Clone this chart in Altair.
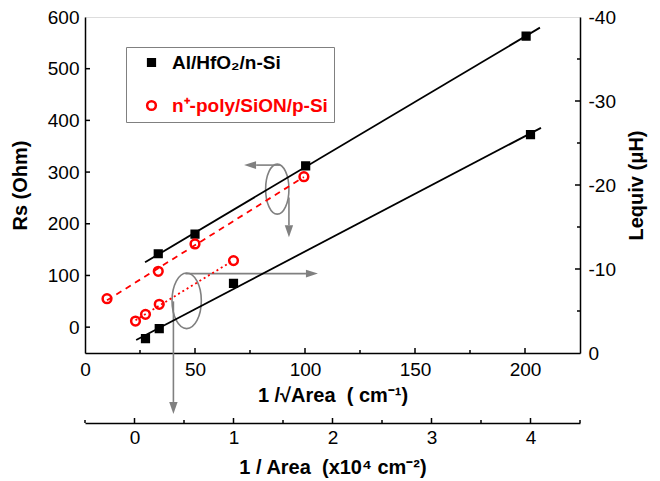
import altair as alt
import pandas as pd

FONT = "Liberation Sans"
GRAY = "#808080"
NB = "\u00a0"

# ---------------- data ----------------
series = ["Al/HfO₂/n-Si", "n⁺-poly/SiON/p-Si"]

# Rs vs 1/sqrt(Area)  (cm^-1)
al_inv_sqrt_area = [33.3, 50, 100.3, 200.5]
al_rs = [142, 180, 312, 563]
poly_inv_sqrt_area = [10, 33.3, 50, 99.5]
poly_rs = [55, 108, 161, 291]

# Lequiv vs 1/Area  (x10^4 cm^-2)
al_inv_area = [0.111, 0.25, 1.0, 4.0]
al_leq = [-1.7, -2.9, -8.3, -26.0]
poly_inv_area = [0.01, 0.111, 0.25, 1.0]
poly_leq = [-3.8, -4.6, -5.8, -11.0]

# extents of the fitted lines
al_rs_fit_extent = [27.3, 206.8]
poly_rs_fit_extent = [10, 99.5]
al_leq_fit_extent = [0.017, 4.106]
poly_leq_fit_extent = [0.01, 1.0]

# axis ticks
xA_labels = [0, 50, 100, 150, 200]
xA_major = [50, 100, 150, 200]
xA_minor = [25, 75, 125, 175]
yA_labels = [0, 100, 200, 300, 400, 500, 600]
yA_major = [0, 100, 200, 300, 400, 500]
xB_labels = [0, 1, 2, 3, 4]
xB_minor = [-0.5, 0.5, 1.5, 2.5, 3.5, 4.5]
yB_labels = [0, -10, -20, -30, -40]
yB_major = [-10, -20, -30]
yB_minor = [-5, -15, -25, -35]

# annotations (ellipse centres and arrows, in data units)
ellA = {"X": [87.4], "Rs": [267]}
arrA_left = {"X": [88.6], "X2": [77.8], "Rs": [313.5], "tipX": [72.3]}
arrA_down = {"X": [92.7], "Rs": [251], "Rs2": [197], "tipRs": [173.7]}
ellB = {"A": [0.527], "L": [-6.21]}
arrB_right = {"A": [0.514], "A2": [1.732], "L": [-9.45], "tipA": [1.853]}
arrB_down = {"A": [0.393], "L": [-6.15], "L2": [5.83], "tipL": [7.26]}

# ---------------- helpers ----------------
W, H = 495, 336

def ellipse_path(rx):
    k = 0.5523
    return (f"M0,-1 C{k*rx:.4f},-1 {rx:.4f},{-k:.4f} {rx:.4f},0 "
            f"C{rx:.4f},{k:.4f} {k*rx:.4f},1 0,1 "
            f"C{-k*rx:.4f},1 {-rx:.4f},{k:.4f} {-rx:.4f},0 "
            f"C{-rx:.4f},{-k:.4f} {-k*rx:.4f},-1 0,-1 Z")

HEAD_LEFT = "M0,0 L2,-0.65 L2,0.65 Z"
HEAD_RIGHT = "M0,0 L-2,-0.65 L-2,0.65 Z"
HEAD_DOWN = "M0,0 L-0.7,-2 L0.7,-2 Z"

common = dict(labelFont=FONT, labelFontSize=19, labelColor="black",
              titleFont=FONT, titleFontSize=20, titleFontWeight="bold",
              titleColor="black", domainColor="black", domainWidth=1.5,
              ticks=False, grid=False, labelFlush=False, labelOverlap=False,
              labelExpr="'' + datum.value")

axXA = alt.Axis(orient="bottom", values=xA_labels,
                title=f"1 /√Area{NB}{NB}({NB}cm⁻¹)",
                labelPadding=7, titlePadding=6, **common)
axYA = alt.Axis(orient="left", values=yA_labels, title="Rs (Ohm)",
                labelPadding=6, titlePadding=17, **common)
axXB = alt.Axis(orient="bottom", offset=70, values=xB_labels,
                title=f"1 / Area{NB}{NB}(x10⁴ cm⁻²)", labelPadding=5, titlePadding=10, **common)
axYB = alt.Axis(orient="right", values=yB_labels, title="Lequiv (μH)",
                titleAngle=270, titleBaseline="top", labelPadding=8, titlePadding=11, **common)

xsA = alt.Scale(domain=[0, 225], nice=False, zero=False)
ysA = alt.Scale(domain=[-50, 600], nice=False, zero=False)
xsB = alt.Scale(domain=[-0.5, 4.5], nice=False, zero=False)
ysB = alt.Scale(domain=[-40, 0], reverse=True, nice=False, zero=False)

def XA(f="X"):
    return alt.X(f"{f}:Q", scale=xsA, axis=axXA)
def YA(f="Rs"):
    return alt.Y(f"{f}:Q", scale=ysA, axis=axYA)
def XB(f="A"):
    return alt.X(f"{f}:Q", scale=xsB, axis=axXB)
def YB(f="L"):
    return alt.Y(f"{f}:Q", scale=ysB, axis=axYB)

legend = alt.Legend(
    title=None, orient="none", legendX=41, legendY=30,
    strokeColor=GRAY, fillColor="white", padding=6, rowPadding=23,
    labelFont=FONT, labelFontSize=19, labelFontWeight="bold",
    labelColor=alt.ExprRef(expr=f"datum.value == '{series[0]}' ? 'black' : 'red'"),
    labelExpr=f"datum.label + '{NB}{NB}'",
    symbolStrokeWidth=2.5, symbolOffset=10, labelOffset=11, labelLimit=400,
)

def style_enc(show_legend):
    lg = legend if show_legend else None
    return dict(
        shape=alt.Shape("series:N", scale=alt.Scale(domain=series, range=["square", "circle"]), legend=lg),
        fill=alt.Fill("series:N", scale=alt.Scale(domain=series, range=["black", "transparent"]), legend=lg),
        stroke=alt.Stroke("series:N", scale=alt.Scale(domain=series, range=["black", "red"]), legend=lg),
        size=alt.Size("series:N", scale=alt.Scale(domain=series, range=[45, 76]), legend=lg),
    )

# ---------------- tables ----------------
dfA = pd.DataFrame({
    "series": [series[0]] * len(al_rs) + [series[1]] * len(poly_rs),
    "X": al_inv_sqrt_area + poly_inv_sqrt_area,
    "Rs": al_rs + poly_rs,
})
dfB = pd.DataFrame({
    "series": [series[0]] * len(al_leq) + [series[1]] * len(poly_leq),
    "A": al_inv_area + poly_inv_area,
    "L": al_leq + poly_leq,
})

baseA = alt.Chart(dfA)
baseB = alt.Chart(dfB)

# ---------- group A : Rs vs 1/sqrt(Area) ----------
fitA_al = baseA.transform_filter(alt.datum.series == series[0]).transform_regression(
    "X", "Rs", extent=al_rs_fit_extent).mark_line(color="black", strokeWidth=1.8).encode(x=XA(), y=YA())
fitA_poly = baseA.transform_filter(alt.datum.series == series[1]).transform_regression(
    "X", "Rs", extent=poly_rs_fit_extent).mark_line(color="red", strokeWidth=1.8, strokeDash=[6, 5]).encode(x=XA(), y=YA())
ptsA = baseA.mark_point(filled=False, opacity=1, strokeWidth=2.5).encode(x=XA(), y=YA(), **style_enc(True))

ticks_xA_maj = alt.Chart(pd.DataFrame({"X": xA_major})).mark_rule(color="black", strokeWidth=1.5).encode(
    x=XA(), y=alt.value(H), y2=alt.value(H - 5))
ticks_xA_min = alt.Chart(pd.DataFrame({"X": xA_minor})).mark_rule(color="black", strokeWidth=1.5).encode(
    x=XA(), y=alt.value(H), y2=alt.value(H - 3))
ticks_yA = alt.Chart(pd.DataFrame({"Rs": yA_major})).mark_rule(color="black", strokeWidth=1.5).encode(
    y=YA(), x=alt.value(0), x2=alt.value(5))

ellA_m = alt.Chart(pd.DataFrame(ellA)).mark_point(
    shape=ellipse_path(0.466), size=2500, filled=False, stroke=GRAY, strokeWidth=1.6, opacity=1).encode(x=XA(), y=YA())
arrA_l = alt.Chart(pd.DataFrame(arrA_left)).mark_rule(color=GRAY, strokeWidth=1.6).encode(
    x=XA(), x2="X2:Q", y=YA())
arrA_lh = alt.Chart(pd.DataFrame(arrA_left)).mark_point(
    shape=HEAD_LEFT, size=144, filled=True, color=GRAY, opacity=1).encode(x=XA("tipX"), y=YA())
arrA_d = alt.Chart(pd.DataFrame(arrA_down)).mark_rule(color=GRAY, strokeWidth=1.6).encode(
    x=XA(), y=YA(), y2="Rs2:Q")
arrA_dh = alt.Chart(pd.DataFrame(arrA_down)).mark_point(
    shape=HEAD_DOWN, size=144, filled=True, color=GRAY, opacity=1).encode(x=XA(), y=YA("tipRs"))

groupA = alt.layer(ticks_xA_maj, ticks_xA_min, ticks_yA, ellA_m, arrA_l, arrA_lh, arrA_d, arrA_dh,
                   fitA_al, fitA_poly, ptsA)

# ---------- group B : Lequiv vs 1/Area ----------
fitB_al = baseB.transform_filter(alt.datum.series == series[0]).transform_regression(
    "A", "L", extent=al_leq_fit_extent).mark_line(color="black", strokeWidth=1.8).encode(x=XB(), y=YB())
fitB_poly = baseB.transform_filter(alt.datum.series == series[1]).transform_regression(
    "A", "L", extent=poly_leq_fit_extent).mark_line(color="red", strokeWidth=1.8, strokeDash=[2, 3]).encode(x=XB(), y=YB())
ptsB = baseB.mark_point(filled=False, opacity=1, strokeWidth=2.5).encode(x=XB(), y=YB(), **style_enc(False))

ticks_yB_maj = alt.Chart(pd.DataFrame({"L": yB_major})).mark_rule(color="black", strokeWidth=1.5).encode(
    y=YB(), x=alt.value(W - 5), x2=alt.value(W))
ticks_yB_min = alt.Chart(pd.DataFrame({"L": yB_minor})).mark_rule(color="black", strokeWidth=1.5).encode(
    y=YB(), x=alt.value(W - 3), x2=alt.value(W))
ticks_xB_maj = alt.Chart(pd.DataFrame({"A": xB_labels})).mark_rule(color="black", strokeWidth=1.5).encode(
    x=XB(), y=alt.value(H + 70), y2=alt.value(H + 65))
ticks_xB_min = alt.Chart(pd.DataFrame({"A": xB_minor})).mark_rule(color="black", strokeWidth=1.5).encode(
    x=XB(), y=alt.value(H + 70), y2=alt.value(H + 67))

ellB_m = alt.Chart(pd.DataFrame(ellB)).mark_point(
    shape=ellipse_path(0.527), size=3091, filled=False, stroke=GRAY, strokeWidth=1.6, opacity=1).encode(x=XB(), y=YB())
arrB_r = alt.Chart(pd.DataFrame(arrB_right)).mark_rule(color=GRAY, strokeWidth=1.6).encode(
    x=XB(), x2="A2:Q", y=YB())
arrB_rh = alt.Chart(pd.DataFrame(arrB_right)).mark_point(
    shape=HEAD_RIGHT, size=144, filled=True, color=GRAY, opacity=1).encode(x=XB("tipA"), y=YB())
arrB_d = alt.Chart(pd.DataFrame(arrB_down)).mark_rule(color=GRAY, strokeWidth=1.6).encode(
    x=XB(), y=YB(), y2="L2:Q")
arrB_dh = alt.Chart(pd.DataFrame(arrB_down)).mark_point(
    shape=HEAD_DOWN, size=144, filled=True, color=GRAY, opacity=1).encode(x=XB(), y=YB("tipL"))

groupB = alt.layer(ticks_yB_maj, ticks_yB_min, ticks_xB_maj, ticks_xB_min, ellB_m, arrB_r, arrB_rh,
                   arrB_d, arrB_dh, fitB_al, fitB_poly, ptsB)

chart = alt.layer(groupA, groupB).resolve_scale(x="independent", y="independent").properties(
    width=W, height=H, padding={"left": 2, "top": 0, "right": 5, "bottom": 5}
).configure_view(stroke="black", strokeWidth=1.5).configure(background="white")

chart.save("out.html", embed_options={"renderer": "svg", "actions": False})
